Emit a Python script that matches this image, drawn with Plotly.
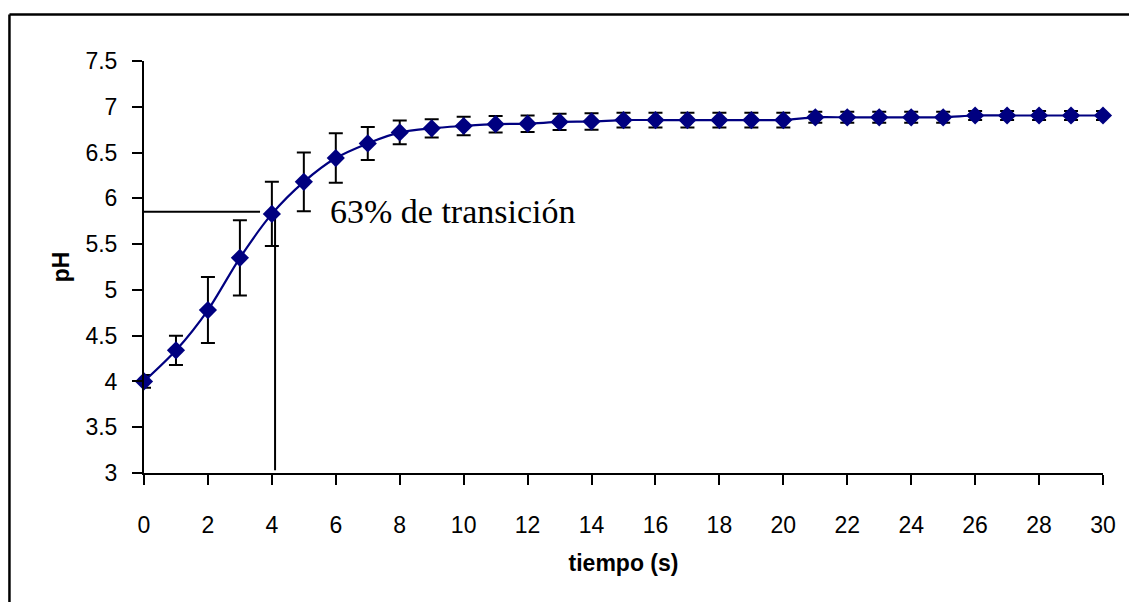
import plotly.graph_objects as go

tiempo = list(range(0, 31))
ph = [4.00, 4.34, 4.78, 5.35, 5.83, 6.18, 6.44, 6.60, 6.72, 6.765, 6.79, 6.81,
      6.815, 6.835, 6.84, 6.855, 6.855, 6.855, 6.855, 6.855, 6.855,
      6.885, 6.885, 6.885, 6.885, 6.885, 6.905, 6.905, 6.905, 6.905, 6.905]
ph_err = [0.07, 0.16, 0.36, 0.41, 0.35, 0.32, 0.27, 0.18, 0.13, 0.10, 0.10, 0.09,
          0.09, 0.09, 0.09, 0.08, 0.08, 0.08, 0.08, 0.08, 0.08,
          0.06, 0.06, 0.06, 0.06, 0.06, 0.05, 0.05, 0.05, 0.05, 0.05]

# 63% transition guide lines
guide_ph = 5.854
guide_t = 4.1
guide_h_end = 3.63
guide_v_bottom = 3.03
label_text = "63% de transición"
label_x = 5.75

x_ticks = list(range(0, 31, 2))
y_ticks = [3, 3.5, 4, 4.5, 5, 5.5, 6, 6.5, 7, 7.5]

fig = go.Figure()
fig.add_trace(go.Scatter(
    x=tiempo, y=ph, mode="lines+markers",
    line=dict(color="#000080", width=2.2, shape="spline", smoothing=0.8),
    marker=dict(symbol="diamond", size=14, color="#000080"),
    error_y=dict(type="data", array=ph_err, visible=True, color="black",
                 thickness=2, width=7),
    showlegend=False, cliponaxis=False,
))

fig.add_shape(type="line", x0=0, x1=guide_h_end, y0=guide_ph, y1=guide_ph,
              xref="x", yref="y", line=dict(color="black", width=2), layer="below")
fig.add_shape(type="line", x0=guide_t, x1=guide_t, y0=guide_ph, y1=guide_v_bottom,
              xref="x", yref="y", line=dict(color="black", width=2), layer="below")

# outer chart border (left and top edges visible)
border_left, border_top = -0.1403, 1.1129
fig.add_shape(type="line", xref="paper", yref="paper",
              x0=border_left, x1=border_left, y0=-0.4, y1=border_top,
              line=dict(color="black", width=2.5))
fig.add_shape(type="line", xref="paper", yref="paper",
              x0=border_left, x1=1.2, y0=border_top, y1=border_top,
              line=dict(color="black", width=2.5))

fig.add_annotation(x=label_x, y=guide_ph, xref="x", yref="y", text=label_text,
                   showarrow=False, xanchor="left", yanchor="middle",
                   font=dict(family="Liberation Serif", size=34, color="black"))

fig.update_layout(
    width=1129, height=602,
    margin=dict(l=144, r=26, t=61, b=129),
    paper_bgcolor="white", plot_bgcolor="white",
    font=dict(family="Liberation Sans, Arial", size=23, color="black"),
    xaxis=dict(range=[0, 30], tickvals=x_ticks, showline=True, linecolor="black",
               linewidth=2, ticks="outside", ticklen=10, tickwidth=2, tickcolor="black",
               showgrid=False, zeroline=False, ticklabelstandoff=20,
               title=dict(text="<b>tiempo (s)</b>", font=dict(size=23), standoff=18)),
    yaxis=dict(range=[3, 7.5], tickvals=y_ticks, showline=True, linecolor="black",
               linewidth=2, ticks="outside", ticklen=10, tickwidth=2, tickcolor="black",
               showgrid=False, zeroline=False, ticklabelstandoff=10,
               title=dict(text="<b>pH</b>", font=dict(size=23), standoff=9)),
)

fig.write_html("out.html", config={"displayModeBar": False},
               post_script="document.body.style.margin='0';document.body.style.overflow='hidden';")
